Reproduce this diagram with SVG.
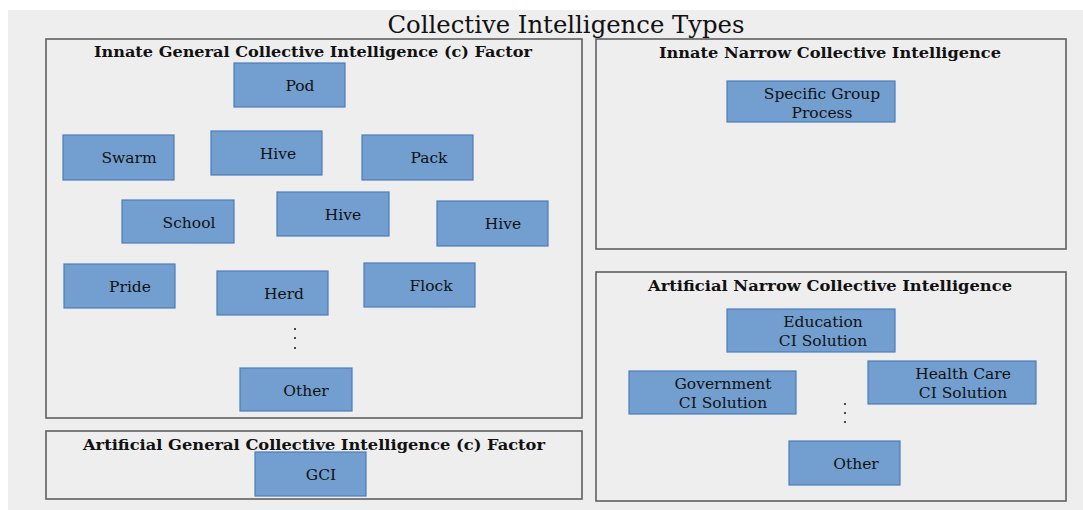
<svg xmlns="http://www.w3.org/2000/svg" width="1083" height="510" viewBox="0 0 1083 510">
  <style>
    .panel { fill: none; stroke: #606060; stroke-width: 1.6; }
    .node rect { fill: #729fcf; stroke: #4d7cba; stroke-width: 1.2; }
    .lbl { font-family: "DejaVu Serif", "Liberation Serif", serif; font-size: 15.5px; fill: #111; text-anchor: middle; }
    .head { font-family: "DejaVu Serif", "Liberation Serif", serif; font-size: 15px; font-weight: bold; fill: #111; text-anchor: middle; }
    .title { font-family: "DejaVu Serif", "Liberation Serif", serif; font-size: 25px; fill: #111; text-anchor: middle; }
    .dot { fill: #222; }
  </style>

  <!-- page -->
  <rect x="0" y="0" width="1083" height="510" fill="#ffffff"/>
  <rect x="8" y="10" width="1075" height="500" fill="#eeeeee"/>

  <text class="title" x="566" y="33" textLength="357" lengthAdjust="spacingAndGlyphs">Collective Intelligence Types</text>

  <!-- panels -->
  <g id="panel-innate-general">
    <rect class="panel" x="46" y="39" width="536" height="379"/>
    <text class="head" x="313" y="57" textLength="438" lengthAdjust="spacingAndGlyphs">Innate General Collective Intelligence (c) Factor</text>
  </g>
  <g id="panel-innate-narrow">
    <rect class="panel" x="596" y="39" width="470" height="210"/>
    <text class="head" x="830" y="58" textLength="342" lengthAdjust="spacingAndGlyphs">Innate Narrow Collective Intelligence</text>
  </g>
  <g id="panel-artificial-narrow">
    <rect class="panel" x="596" y="272" width="470" height="229"/>
    <text class="head" x="830" y="291" textLength="364" lengthAdjust="spacingAndGlyphs">Artificial Narrow Collective Intelligence</text>
  </g>
  <g id="panel-artificial-general">
    <rect class="panel" x="46" y="431" width="536" height="68"/>
    <text class="head" x="314" y="450" textLength="462" lengthAdjust="spacingAndGlyphs">Artificial General Collective Intelligence (c) Factor</text>
  </g>

  <!-- innate general nodes -->
  <g id="node-pod" class="node"><rect x="234" y="63" width="111" height="44"/><text class="lbl" x="300" y="91">Pod</text></g>
  <g id="node-swarm" class="node"><rect x="63" y="135" width="111" height="45"/><text class="lbl" x="129" y="163">Swarm</text></g>
  <g id="node-hive-1" class="node"><rect x="211" y="131" width="111" height="44"/><text class="lbl" x="278" y="159">Hive</text></g>
  <g id="node-pack" class="node"><rect x="362" y="135" width="111" height="45"/><text class="lbl" x="429" y="163">Pack</text></g>
  <g id="node-school" class="node"><rect x="122" y="200" width="112" height="43"/><text class="lbl" x="189" y="228">School</text></g>
  <g id="node-hive-2" class="node"><rect x="277" y="192" width="112" height="44"/><text class="lbl" x="343" y="220">Hive</text></g>
  <g id="node-hive-3" class="node"><rect x="437" y="201" width="111" height="45"/><text class="lbl" x="503" y="229">Hive</text></g>
  <g id="node-pride" class="node"><rect x="64" y="264" width="111" height="44"/><text class="lbl" x="130" y="292">Pride</text></g>
  <g id="node-herd" class="node"><rect x="217" y="271" width="111" height="44"/><text class="lbl" x="284" y="299">Herd</text></g>
  <g id="node-flock" class="node"><rect x="364" y="263" width="111" height="44"/><text class="lbl" x="431" y="291">Flock</text></g>
  <g id="ellipsis-general">
    <circle class="dot" cx="295" cy="329" r="1.1"/>
    <circle class="dot" cx="295" cy="338" r="1.1"/>
    <circle class="dot" cx="295" cy="348" r="1.1"/>
  </g>
  <g id="node-other-general" class="node"><rect x="240" y="368" width="112" height="43"/><text class="lbl" x="306" y="396">Other</text></g>

  <!-- artificial general node -->
  <g id="node-gci" class="node"><rect x="255" y="452" width="111" height="44"/><text class="lbl" x="321" y="480">GCI</text></g>

  <!-- innate narrow node -->
  <g id="node-specific-group" class="node"><rect x="727" y="81" width="168" height="41"/>
    <text class="lbl" x="822" y="99">Specific Group</text><text class="lbl" x="822" y="118">Process</text></g>

  <!-- artificial narrow nodes -->
  <g id="node-education" class="node"><rect x="727" y="309" width="168" height="43"/>
    <text class="lbl" x="823" y="327">Education</text><text class="lbl" x="823" y="346">CI Solution</text></g>
  <g id="node-government" class="node"><rect x="629" y="371" width="167" height="43"/>
    <text class="lbl" x="723" y="389">Government</text><text class="lbl" x="723" y="408">CI Solution</text></g>
  <g id="node-health-care" class="node"><rect x="868" y="361" width="168" height="43"/>
    <text class="lbl" x="963" y="379">Health Care</text><text class="lbl" x="963" y="398">CI Solution</text></g>
  <g id="ellipsis-narrow">
    <circle class="dot" cx="845" cy="404" r="1.1"/>
    <circle class="dot" cx="845" cy="413" r="1.1"/>
    <circle class="dot" cx="845" cy="422" r="1.1"/>
  </g>
  <g id="node-other-narrow" class="node"><rect x="789" y="441" width="111" height="44"/><text class="lbl" x="856" y="469">Other</text></g>

  <!-- no connectors in this diagram -->
  <g id="connectors"/>
</svg>
